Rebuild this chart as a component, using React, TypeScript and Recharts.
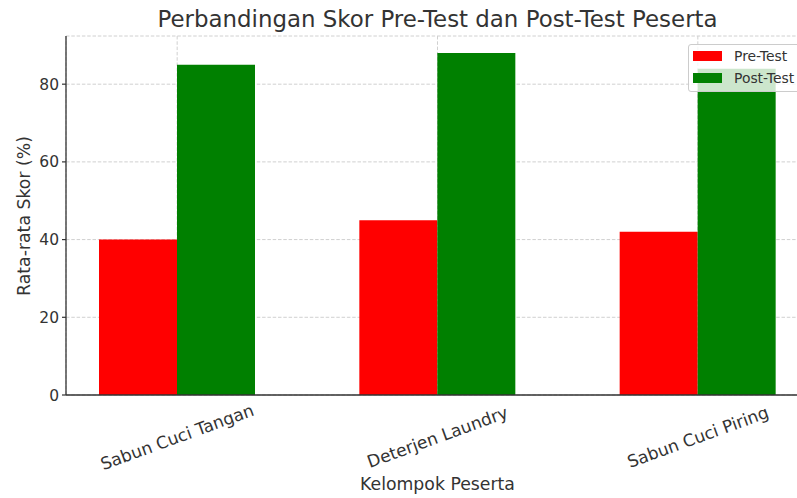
import { BarChart, Bar, XAxis, YAxis, CartesianGrid, Legend } from 'recharts'

const categories = ['Sabun Cuci Tangan', 'Deterjen Laundry', 'Sabun Cuci Piring']
const preTest = [40, 45, 42]
const postTest = [85, 88, 84]
const yTicks = [0, 20, 40, 60, 80]

const data = categories.map((name, i) => ({ name, pre: preTest[i], post: postTest[i] }))

const font = '"DejaVu Sans", sans-serif'
const textColor = '#333333'

function XTick(props: any) {
  const { x, y, payload } = props
  return (
    <text
      transform={`translate(${x},${y + 42}) rotate(-20)`}
      textAnchor="middle"
      dominantBaseline="central"
      fontFamily={font}
      fontSize={17}
      fill={textColor}
    >
      {payload.value}
    </text>
  )
}

const legendItems = [
  { label: 'Pre-Test', color: '#ff0000' },
  { label: 'Post-Test', color: '#008000' },
]

function LegendBox() {
  return (
    <div
      style={{
        border: '1px solid #cccccc',
        borderRadius: 3,
        background: 'rgba(255,255,255,0.8)',
        padding: '0 8px 2px 4px',
        fontFamily: font,
        fontSize: 13.9,
        color: textColor,
      }}
    >
      {legendItems.map((it) => (
        <div key={it.label} style={{ display: 'flex', alignItems: 'center', height: 22, whiteSpace: 'nowrap' }}>
          <span style={{ display: 'inline-block', width: 29, height: 10, background: it.color, marginRight: 12 }} />
          <span>{it.label}</span>
        </div>
      ))}
    </div>
  )
}

export default function App() {
  return (
    <div style={{ position: 'fixed', left: 0, top: 0, width: 797, height: 498, overflow: 'hidden', background: '#fff' }}>
      <BarChart
        width={820}
        height={498}
        data={data}
        margin={{ top: 36, right: 11, bottom: 0, left: 0 }}
        barSize={78}
        barGap={0}
      >
        <CartesianGrid stroke="#d0d0d0" strokeDasharray="3.5 1.8" />
        <XAxis
          dataKey="name"
          height={103}
          padding={{ left: -19, right: -19 }}
          tickLine={false}
          tickSize={0}
          tickMargin={0}
          tick={<XTick />}
          axisLine={{ stroke: '#333333', strokeWidth: 1.3 }}
          interval={0}
        />
        <YAxis
          width={66}
          domain={[0, 92.4]}
          ticks={yTicks}
          tickLine={{ stroke: '#333333', strokeWidth: 1.2 }}
          tickSize={4}
          tickMargin={3}
          axisLine={{ stroke: '#333333', strokeWidth: 1.3 }}
          tick={{ fontFamily: font, fontSize: 15.5, fill: textColor }}
        />
        <Legend
          layout="horizontal"
          verticalAlign="middle"
          align="center"
          content={<LegendBox />}
          wrapperStyle={{ position: 'absolute', left: 688, top: 44, width: 'auto', height: 'auto' }}
        />
        <Bar dataKey="pre" name="Pre-Test" fill="#ff0000" isAnimationActive={false} />
        <Bar dataKey="post" name="Post-Test" fill="#008000" isAnimationActive={false} />
      </BarChart>
      <div
        style={{
          position: 'absolute', left: 0, width: 875, top: 6, textAlign: 'center',
          fontFamily: font, fontSize: 22.9, lineHeight: '27px', color: textColor,
        }}
      >
        Perbandingan Skor Pre-Test dan Post-Test Peserta
      </div>
      <div
        style={{
          position: 'absolute', left: 0, width: 875, top: 474, textAlign: 'center',
          fontFamily: font, fontSize: 17.3, lineHeight: '20px', color: textColor,
        }}
      >
        Kelompok Peserta
      </div>
      <div
        style={{
          position: 'absolute', left: 24, top: 216, width: 0, height: 0,
        }}
      >
        <div
          style={{
            position: 'absolute', left: -150, top: -10, width: 300, textAlign: 'center',
            transform: 'rotate(-90deg)', fontFamily: font, fontSize: 17.3, lineHeight: '20px',
            color: textColor, whiteSpace: 'nowrap',
          }}
        >
          Rata-rata Skor (%)
        </div>
      </div>
    </div>
  )
}
